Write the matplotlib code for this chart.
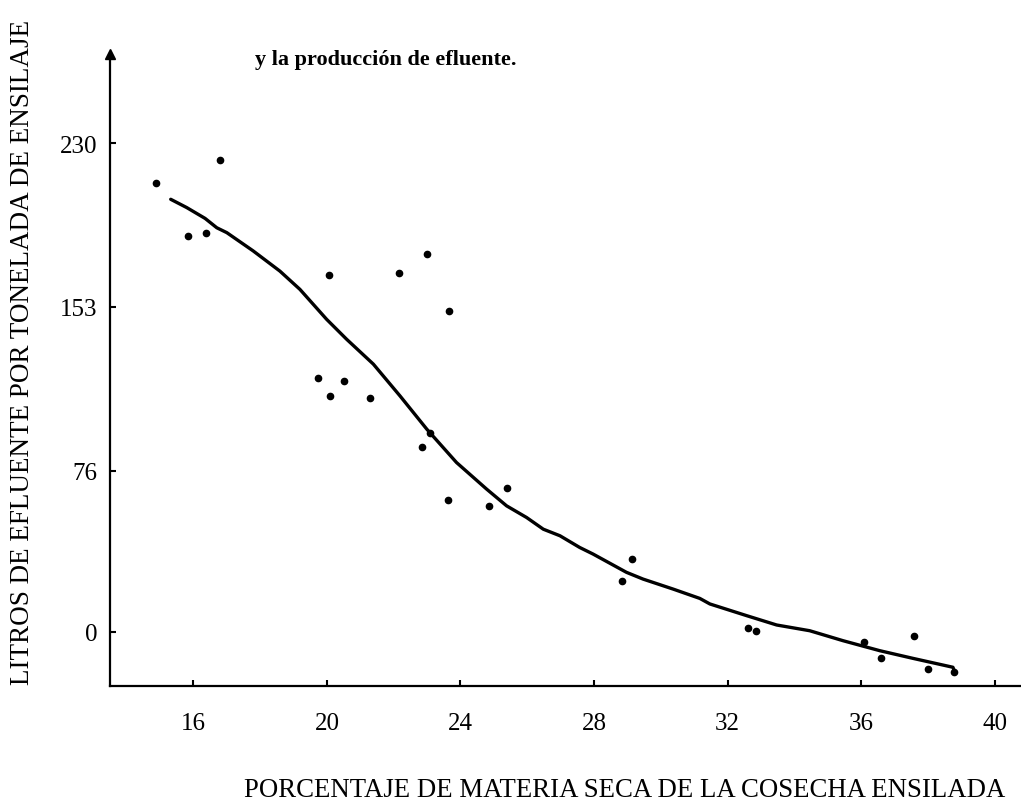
import matplotlib
matplotlib.use("Agg")
import matplotlib.pyplot as plt

# observed points (materia seca %, litros de efluente / t)
ms_pct = [14.89, 16.81, 15.83, 16.38, 20.06, 22.16, 23.00, 23.66, 19.72, 20.51,
          20.09, 21.29, 23.09, 22.84, 23.64, 25.38, 24.84, 29.14, 28.85, 32.60,
          32.86, 36.08, 36.60, 37.57, 38.01, 38.78]
efluente = [211.5, 222.2, 186.4, 187.7, 168.2, 169.0, 178.1, 151.0, 119.6, 118.1,
            111.3, 110.1, 93.9, 87.0, 62.1, 67.6, 59.4, 34.3, 24.0, 1.9,
            0.3, -4.6, -12.1, -1.7, -17.4, -18.8]

# hand drawn curve
curva_x = [15.32, 15.80, 16.35, 16.70, 17.00, 17.79, 18.59, 19.19, 19.99, 20.59,
           21.39, 22.19, 22.99, 23.88, 24.78, 25.38, 25.98, 26.48, 26.98, 27.57,
           27.97, 28.97, 29.47, 30.37, 31.17, 31.47, 32.57, 33.47, 34.46, 35.46,
           36.56, 37.55, 38.75, 38.80]
curva_y = [203.7, 199.8, 194.7, 190.3, 188.0, 179.4, 169.9, 161.3, 147.2, 137.8,
           126.1, 111.1, 95.5, 79.8, 67.3, 59.4, 53.9, 48.4, 45.3, 39.8,
           36.7, 28.1, 24.9, 20.2, 15.8, 13.2, 7.7, 3.3, 0.6, -4.1,
           -8.8, -12.4, -16.6, -18.5]

x_ticks = [16, 20, 24, 28, 32, 36, 40]
y_ticks = [0, 76, 153, 230]

plt.rcParams['font.family'] = ['Liberation Serif', 'DejaVu Serif']

fig = plt.figure(figsize=(10.21, 8.12), dpi=100)
ax = fig.add_axes([0.1077, 0.154, 0.891, 0.778])

ax.plot(curva_x, curva_y, color='black', lw=2.4, solid_capstyle='round',
        solid_joinstyle='round')
ax.plot(ms_pct, efluente, 'o', color='black', ms=4.5)

ax.set_xlim(13.5, 40.75)
ax.set_ylim(-25.4, 272)
ax.set_xticks(x_ticks)
ax.set_yticks(y_ticks)
ax.tick_params(direction='in', length=4, width=1.5, labelsize=18)
ax.tick_params(axis='x', pad=19)
ax.tick_params(axis='y', pad=9)

for s in ['top', 'right']:
    ax.spines[s].set_visible(False)
for s in ['left', 'bottom']:
    ax.spines[s].set_linewidth(1.6)
ax.plot(0, 1, '^', color='black', ms=7, transform=ax.transAxes, clip_on=False)

fig.text(0.022, 0.566, 'LITROS DE EFLUENTE POR TONELADA DE ENSILAJE',
         rotation=90, ha='center', va='center', fontsize=19.5)
fig.text(0.612, 0.027, 'PORCENTAJE DE MATERIA SECA DE LA COSECHA ENSILADA',
         ha='center', va='center', fontsize=19.3)
fig.text(0.25, 0.926, 'y la producción de efluente.', ha='left', va='center',
         fontsize=16, fontweight='bold')

fig.savefig('out.png', dpi=100)
